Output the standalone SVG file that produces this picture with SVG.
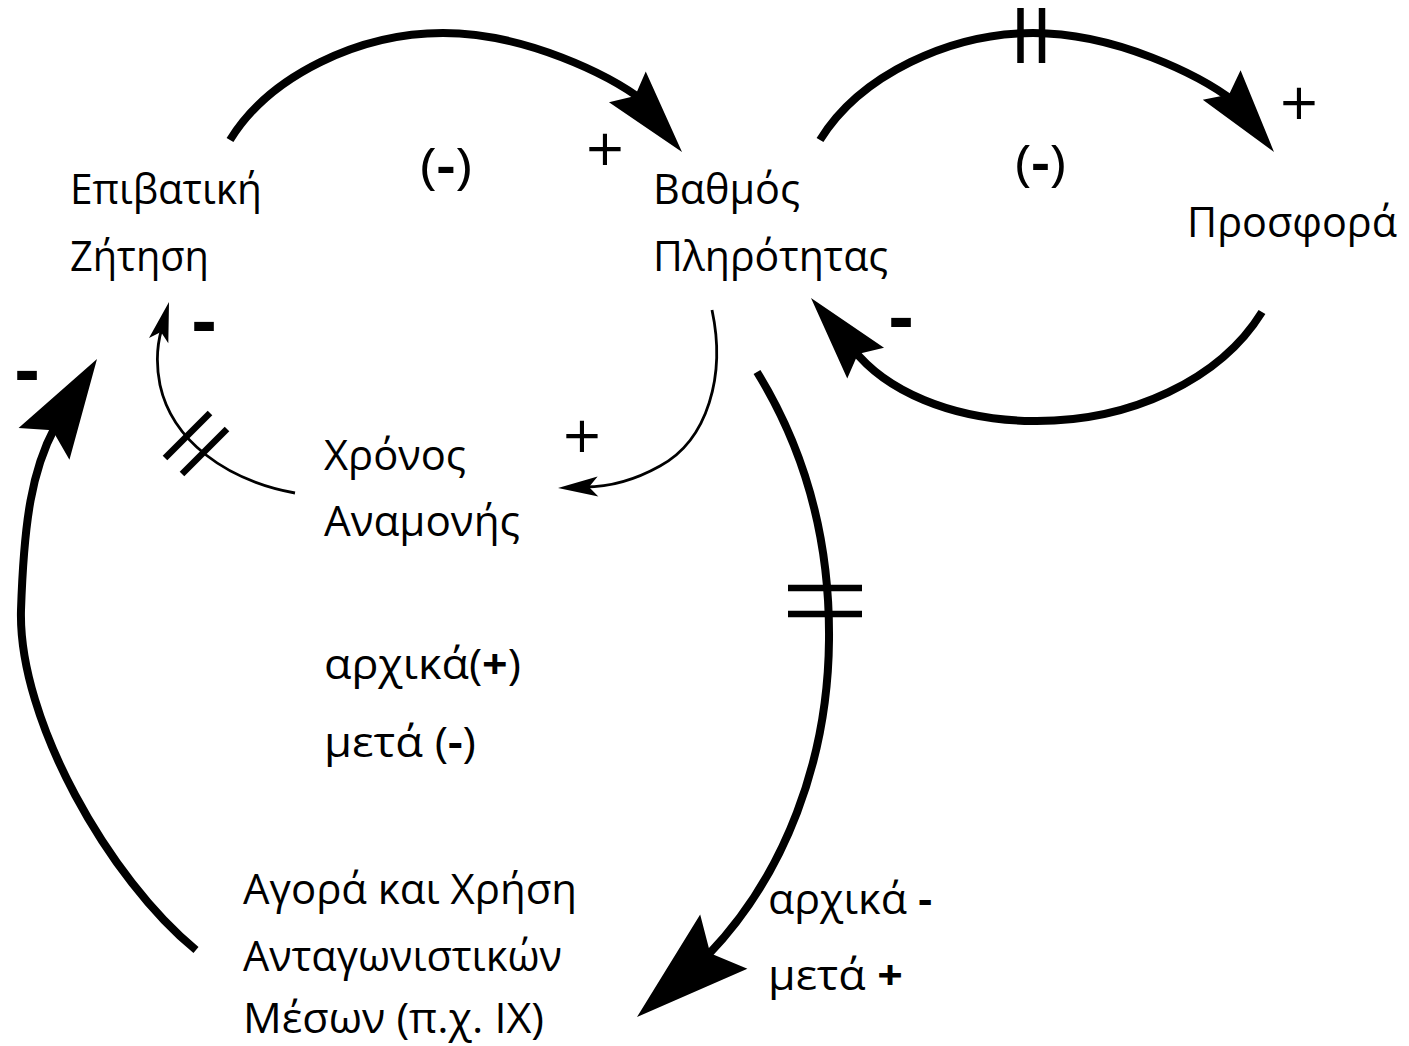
<svg xmlns="http://www.w3.org/2000/svg" xmlns:xlink="http://www.w3.org/1999/xlink" width="1409" height="1046" viewBox="0 0 1409 1046">
<style>
.node text, .lbl { font-family: "Open Sans", "Noto Sans", "DejaVu Sans", sans-serif; font-size: 42px; fill: #000; }
.loop { font-size: 50px; }
.b { font-weight: bold; }
.sign { font-family: "DejaVu Sans", sans-serif; fill: #000; text-anchor: middle; }
.plus { font-size: 50px; }
.minus { font-size: 64px; font-weight: bold; }
.thick { fill: none; stroke: #000; stroke-width: 8; }
.thin { fill: none; stroke: #000; stroke-width: 2.8; }
.hash { fill: none; stroke: #000; stroke-width: 6.5; }
.head { fill: #000; }
</style>
<defs>
<path id="headM" d="M0,0 L-85,-24 L-73,0 L-85,24 Z"/>
<path id="headL" d="M0,0 L-100,-30 L-84,0 L-100,30 Z"/>
<path id="headXL" d="M0,0 L-115,-36 L-97,0 L-115,36 Z"/>
<path id="headS" d="M0,0 L-40,-10 L-31,0 L-40,10 Z"/>
</defs>
<rect width="1409" height="1046" fill="#fff"/>

<g id="connectors">
  <g id="demand-to-occupancy">
    <path class="thick" d="M230,140 C270,75 360,33 443,33 C525,33 610,75 645,102"/>
    <use class="head" href="#headM" transform="translate(682,152) rotate(50)"/>
  </g>
  <g id="occupancy-to-supply">
    <path class="thick" d="M820,140 C860,75 950,33 1033,33 C1115,33 1200,75 1235,102"/>
    <use class="head" href="#headM" transform="translate(1274,152) rotate(52)"/>
    <line class="hash" x1="1020.5" y1="8" x2="1020.5" y2="63"/>
    <line class="hash" x1="1042" y1="8" x2="1042" y2="63"/>
  </g>
  <g id="supply-to-occupancy">
    <path class="thick" d="M1262,312 C1220,380 1130,422 1033,421 C950,420 885,390 853,349"/>
    <use class="head" href="#headM" transform="translate(811,298) rotate(-130)"/>
  </g>
  <g id="occupancy-to-waiting">
    <path class="thin" d="M712,310 C726,375 708,440 660,466 C635,480 612,487 585,487"/>
    <use class="head" href="#headS" transform="translate(558,488) rotate(178)"/>
  </g>
  <g id="waiting-to-demand">
    <path class="thin" d="M295,493 C225,480 172,440 160,385 C156,365 157,345 161.7,329"/>
    <use class="head" href="#headS" transform="translate(169,302) rotate(-75)"/>
    <line class="hash" x1="165" y1="458" x2="210" y2="413"/>
    <line class="hash" x1="182" y1="474" x2="227" y2="429"/>
  </g>
  <g id="occupancy-to-competitors">
    <path class="thick" d="M757,372 C805,450 830,540 829,640 C828,760 785,875 708,955"/>
    <use class="head" href="#headXL" transform="translate(637,1017) rotate(139)"/>
    <line class="hash" x1="788" y1="588" x2="862" y2="588"/>
    <line class="hash" x1="788" y1="614" x2="862" y2="614"/>
  </g>
  <g id="competitors-to-demand">
    <path class="thick" d="M196,950 C110,880 18,720 21,610 C24,520 32,470 55,427"/>
    <use class="head" href="#headL" transform="translate(97,359) rotate(-58)"/>
  </g>
</g>

<g id="polarities">
  <text class="sign plus" x="605" y="165">+</text>
  <text class="sign plus" x="1299" y="119">+</text>
  <text class="sign plus" x="582" y="452">+</text>
  <text class="sign minus" x="901" y="341">-</text>
  <text class="sign minus" x="204" y="345">-</text>
  <text class="sign minus" x="27" y="394">-</text>
</g>

<g id="loop-labels">
  <text class="lbl loop" x="420" y="183" textLength="52" lengthAdjust="spacingAndGlyphs">(<tspan class="b">-</tspan>)</text>
  <text class="lbl loop" x="1015" y="180" textLength="51" lengthAdjust="spacingAndGlyphs">(<tspan class="b">-</tspan>)</text>
  <text class="lbl" x="324" y="679" textLength="197" lengthAdjust="spacingAndGlyphs">αρχικά(<tspan class="b">+</tspan>)</text>
  <text class="lbl" x="324" y="757" textLength="152" lengthAdjust="spacingAndGlyphs">μετά (<tspan class="b">-</tspan>)</text>
  <text class="lbl" x="768" y="914" textLength="164" lengthAdjust="spacingAndGlyphs">αρχικά <tspan class="b">-</tspan></text>
  <text class="lbl" x="768" y="990" textLength="135" lengthAdjust="spacingAndGlyphs">μετά <tspan class="b">+</tspan></text>
</g>

<g id="node-demand" class="node">
  <text x="70" y="204" textLength="192" lengthAdjust="spacingAndGlyphs">Επιβατική</text>
  <text x="70" y="271" textLength="139" lengthAdjust="spacingAndGlyphs">Ζήτηση</text>
</g>
<g id="node-occupancy" class="node">
  <text x="653" y="204" textLength="147" lengthAdjust="spacingAndGlyphs">Βαθμός</text>
  <text x="653" y="271" textLength="235" lengthAdjust="spacingAndGlyphs">Πληρότητας</text>
</g>
<g id="node-supply" class="node">
  <text x="1187" y="237" textLength="210" lengthAdjust="spacingAndGlyphs">Προσφορά</text>
</g>
<g id="node-waiting" class="node">
  <text x="324" y="470" textLength="142" lengthAdjust="spacingAndGlyphs">Χρόνος</text>
  <text x="324" y="536" textLength="196" lengthAdjust="spacingAndGlyphs">Αναμονής</text>
</g>
<g id="node-competitors" class="node">
  <text x="243" y="904" textLength="334" lengthAdjust="spacingAndGlyphs">Αγορά και Χρήση</text>
  <text x="243" y="971" textLength="319" lengthAdjust="spacingAndGlyphs">Ανταγωνιστικών</text>
  <text x="243" y="1033" textLength="301" lengthAdjust="spacingAndGlyphs">Μέσων (π.χ. ΙΧ)</text>
</g>
</svg>
